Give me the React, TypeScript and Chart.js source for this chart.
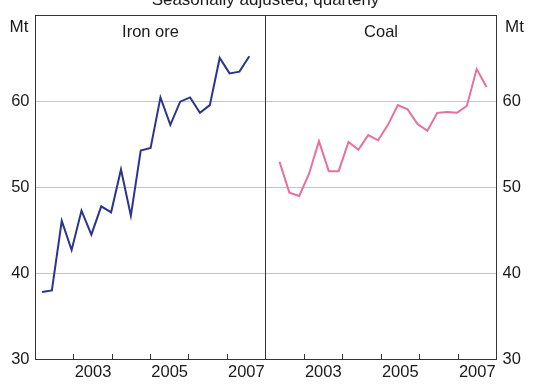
import React, { useEffect, useRef } from 'react';
import { Chart, registerables } from 'chart.js';

Chart.register(...registerables);

// ---- data ----
const quarters = [
  'Mar-02', 'Jun-02', 'Sep-02', 'Dec-02', 'Mar-03', 'Jun-03', 'Sep-03', 'Dec-03',
  'Mar-04', 'Jun-04', 'Sep-04', 'Dec-04', 'Mar-05', 'Jun-05', 'Sep-05', 'Dec-05',
  'Mar-06', 'Jun-06', 'Sep-06', 'Dec-06', 'Mar-07', 'Jun-07',
];
const ironOre = [37.8, 38.0, 46.1, 42.7, 47.3, 44.5, 47.8, 47.1, 52.1, 46.7, 54.3, 54.6, 60.5, 57.3, 60.0, 60.5, 58.7, 59.6, 65.1, 63.3, 63.5, 65.3];
const coal = [53.0, 49.4, 49.0, 51.6, 55.4, 51.9, 51.9, 55.3, 54.4, 56.1, 55.5, 57.3, 59.6, 59.1, 57.4, 56.6, 58.7, 58.8, 58.7, 59.5, 63.8, 61.7];
const yearLabels = ['2002', '2003', '2004', '2005', '2006', '2007'];
const labelledYears = ['2003', '2005', '2007'];
const yTickValues = [30, 40, 50, 60, 70];
const yHiddenLabels = [70];
const subtitle = 'Seasonally adjusted, quarterly';
const unitLabel = 'Mt';
const panelTitles = ['Iron ore', 'Coal'];

// ---- layout / style ----
const W = 538;
const H = 384;
const PLOT_TOP = 10;
const PLOT_BOTTOM = 359;
const LEFT_EDGE = 35.5;
const DIVIDER = 265.5;
const RIGHT_EDGE = 496.5;
const IRON_X_RANGE = [-0.66, 22.64];
const COAL_X_RANGE = [-1.42, 22.01];
const FONT = "'Liberation Sans', Arial, Helvetica, sans-serif";
const TEXT = '#1a1a1a';
const FRAME = '#333333';
const GRID = '#c3c5cc';
const IRON_COLOR = '#2b3490';
const COAL_COLOR = '#e6709f';

const framePlugin = {
  id: 'frame',
  afterDraw(chart: any) {
    const { ctx, chartArea: a } = chart;
    ctx.save();
    ctx.strokeStyle = FRAME;
    ctx.lineWidth = 1;
    const l = Math.floor(a.left) + 0.5;
    const r = Math.floor(a.right) + 0.5;
    const t = Math.floor(a.top) + 0.5;
    const b = Math.floor(a.bottom) + 0.5;
    ctx.strokeRect(l, t, r - l, b - t);
    ctx.restore();
  },
};

function makeTextPlugin(panel: number, side: 'left' | 'right') {
  return {
    id: 'texts' + panel,
    afterDraw(chart: any) {
      const { ctx, chartArea: a } = chart;
      ctx.save();
      ctx.fillStyle = TEXT;
      ctx.textBaseline = 'alphabetic';
      ctx.font = `16.5px ${FONT}`;
      ctx.textAlign = 'center';
      ctx.fillText(panelTitles[panel], (a.left + a.right) / 2, a.top + 21);
      ctx.font = `17px ${FONT}`;
      if (side === 'left') {
        ctx.textAlign = 'right';
        ctx.fillText(unitLabel, a.left - 7, a.top + 16);
      } else {
        ctx.textAlign = 'left';
        ctx.fillText(unitLabel, a.right + 8.5, a.top + 16);
        ctx.textAlign = 'center';
        ctx.fillText(subtitle, a.left, 4.5);
      }
      ctx.restore();
    },
  };
}

function buildConfig(values: number[], color: string, side: 'left' | 'right', range: number[], panel: number): any {
  return {
    type: 'line',
    data: {
      labels: quarters,
      datasets: [
        {
          label: panelTitles[panel],
          data: values.map((v, i) => ({ x: i, y: v })),
          borderColor: color,
          borderWidth: 2,
          pointRadius: 0,
          tension: 0,
          fill: false,
        },
      ],
    },
    options: {
      animation: false,
      responsive: false,
      devicePixelRatio: 1,
      layout: {
        padding:
          side === 'left'
            ? { top: PLOT_TOP, left: 0, right: W - DIVIDER, bottom: 0 }
            : { top: PLOT_TOP, left: DIVIDER, right: 0, bottom: 0 },
      },
      plugins: { legend: { display: false }, tooltip: { enabled: false } },
      scales: {
        x: {
          type: 'linear',
          min: range[0],
          max: range[1],
          afterBuildTicks: (s: any) => {
            const step = (s.max - s.min) / yearLabels.length;
            s.ticks = yearLabels.map((_, k) => ({ value: s.min + (k + 0.5) * step }));
          },
          afterFit: (s: any) => {
            s.height = H - PLOT_BOTTOM;
          },
          border: { display: false },
          grid: {
            display: true,
            offset: true,
            drawOnChartArea: false,
            drawTicks: true,
            tickLength: -5,
            color: FRAME,
            lineWidth: 1,
          },
          ticks: {
            autoSkip: false,
            maxRotation: 0,
            minRotation: 0,
            padding: 8.5,
            color: TEXT,
            font: { family: FONT, size: 16.5 },
            callback: (_v: any, i: number) => (labelledYears.includes(yearLabels[i]) ? yearLabels[i] : ''),
          },
        },
        y: {
          type: 'linear',
          position: side,
          min: yTickValues[0],
          max: yTickValues[yTickValues.length - 1],
          afterBuildTicks: (s: any) => {
            s.ticks = yTickValues.map((v) => ({ value: v }));
          },
          afterFit: (s: any) => {
            s.width = side === 'left' ? LEFT_EDGE : W - RIGHT_EDGE;
          },
          border: { display: false },
          grid: {
            drawTicks: false,
            lineWidth: 1,
            color: (ctx: any) =>
              ctx.tick && (ctx.tick.value === yTickValues[0] || ctx.tick.value === yTickValues[yTickValues.length - 1])
                ? 'rgba(0,0,0,0)'
                : GRID,
          },
          ticks: {
            padding: 6,
            color: TEXT,
            font: { family: FONT, size: 16.5 },
            callback: (v: any) => (yHiddenLabels.includes(v) ? '' : String(v)),
          },
        },
      },
    },
    plugins: [framePlugin, makeTextPlugin(panel, side)],
  };
}

export default function App() {
  const leftRef = useRef<HTMLCanvasElement>(null);
  const rightRef = useRef<HTMLCanvasElement>(null);

  useEffect(() => {
    const c1 = new Chart(leftRef.current as HTMLCanvasElement, buildConfig(ironOre, IRON_COLOR, 'left', IRON_X_RANGE, 0));
    const c2 = new Chart(rightRef.current as HTMLCanvasElement, buildConfig(coal, COAL_COLOR, 'right', COAL_X_RANGE, 1));
    return () => {
      c1.destroy();
      c2.destroy();
    };
  }, []);

  return (
    <div style={{ position: 'fixed', left: 0, top: 0, width: W, height: H, background: '#ffffff', overflow: 'hidden' }}>
      <canvas ref={leftRef} width={W} height={H} style={{ position: 'absolute', left: 0, top: 0 }} />
      <canvas ref={rightRef} width={W} height={H} style={{ position: 'absolute', left: 0, top: 0 }} />
    </div>
  );
}
